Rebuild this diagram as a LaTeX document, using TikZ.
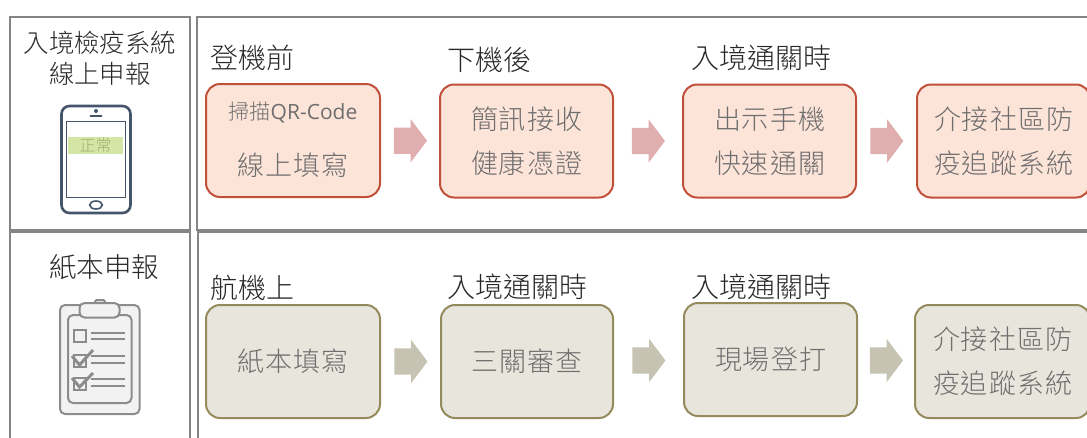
\documentclass[tikz,border=0pt]{standalone}
\usepackage{fontspec}
\usetikzlibrary{shapes.arrows,calc}
\newfontfamily\cjk{Noto Sans CJK TC Light}
\newfontfamily\cjkb[LetterSpace=3.7]{Noto Sans CJK TC Light}
\newfontfamily\latinf{Open Sans}
\definecolor{framegray}{HTML}{858585}
\definecolor{boxtext}{HTML}{6E6E6E}
\definecolor{darktext}{HTML}{282828}
\definecolor{redfill}{HTML}{FDE4D9}
\definecolor{redline}{HTML}{C0503A}
\definecolor{oliveFill}{HTML}{E8E6DC}
\definecolor{oliveLine}{HTML}{948A5C}
\definecolor{redarrow}{HTML}{E0AEAE}
\definecolor{olivearrow}{HTML}{C6C3B2}
\definecolor{phone}{HTML}{44546A}
\definecolor{band}{HTML}{D4E6A5}
\definecolor{bandtext}{HTML}{A0AE68}
\definecolor{clipg}{HTML}{8C8C8C}
\definecolor{clipf}{HTML}{F2F2F2}
\tikzset{
  x=1pt,y=-1pt,
  framebox/.style={draw=framegray,line width=1.6pt},
  title/.style={font=\cjk\fontsize{25.4}{31}\selectfont,text=darktext,align=center,inner sep=0pt},
  steplabel/.style={font=\cjk\fontsize{28}{30}\selectfont,text=darktext,anchor=west,inner sep=0pt},
  flowbox/.style={rounded corners=14pt,line width=2pt,minimum height=113pt,inner sep=0pt,
     align=center,text=boxtext,font=\cjkb\fontsize{27}{44}\selectfont},
  redbox/.style={flowbox,draw=redline,fill=redfill},
  olivebox/.style={flowbox,draw=oliveLine,fill=oliveFill},
  blockarrow/.style={single arrow,single arrow head extend=8.5pt,single arrow tip angle=106,
     text height=26pt,text depth=0pt,text width=0pt,minimum height=33pt,inner sep=0pt,draw=none,xshift=-4.5pt},
  redarr/.style={blockarrow,fill=redarrow},
  olivearr/.style={blockarrow,fill=olivearrow},
  phoneline/.style={draw=phone,line width=2.6pt},
  clipline/.style={draw=clipg,line width=2pt},
}
\begin{document}
\begin{tikzpicture}
\useasboundingbox (0,0) rectangle (1087,437);
\clip (0,0) rectangle (1087,437);
% frames
\draw[framebox] (10,17) rectangle (190,230);
\draw[framebox] (197,17) rectangle (1100,230);
\draw[framebox] (10,232) rectangle (190,450);
\draw[framebox] (198,232) rectangle (1100,450);
% headings
\node[title] (t1) at (100,58) {入境檢疫系統\\線上申報};
\node[title,font=\cjk\fontsize{27.5}{31}\selectfont] (t2) at (104,267) {紙本申報};
% phone
\draw[phoneline,fill=white,rounded corners=8pt] (61.5,106) rectangle (130.5,213);
\draw[draw=phone,line width=1pt] (66.5,121) rectangle (125.5,197);
\fill[band] (68,137) rectangle (123,154);
\node[font=\cjk\fontsize{16}{16}\selectfont,text=bandtext,inner sep=0pt] (ok) at (95.5,145.5) {正常};
\draw[phone,line width=2pt,line cap=round] (90.5,115.5) -- (101.5,115.5);
\fill[phone] (96,111) circle (2pt);
\draw[phone,line width=1.6pt] (96,205) ellipse (6.3pt and 4pt);
% clipboard
\draw[clipline,fill=clipf,rounded corners=5pt] (60,305) rectangle (139.5,414);
\draw[clipline,fill=clipf,rounded corners=5pt] (68,315) rectangle (131.5,403);
\draw[clipline,fill=clipf,rounded corners=2pt] (95,304) -- (95,300) -- (105,300) -- (105,304);
\draw[clipline,fill=clipf,rounded corners=5pt] (79.5,303) rectangle (119.5,317.5);
\draw[clipline] (74,330) rectangle (86,342);
\draw[clipline] (74,355) rectangle (86,367);
\draw[clipline] (74,378) rectangle (86,390);
\draw[draw=clipg,line width=3pt] (72,356) -- (79.5,365) -- (93,350);
\draw[draw=clipg,line width=3pt] (72,378) -- (79.5,387) -- (93,373);
\foreach \a in {333,339,356,363,379,386}{\draw[clipline,line width=1.6pt] (91,\a) -- (125,\a);}
% labels
\node[steplabel] (l1) at (210,58) {登機前};
\node[steplabel] (l2) at (447,60) {下機後};
\node[steplabel] (l3) at (691,58) {入境通關時};
\node[steplabel] (l4) at (210,288) {航機上};
\node[steplabel] (l5) at (447,287) {入境通關時};
\node[steplabel] (l6) at (691,287) {入境通關時};
% top row
\node[redbox,minimum width=174pt] (a1) at (293,140.5) {};
\node[font=\latinf\fontsize{21}{21}\selectfont,text=boxtext,inner sep=0pt] (a1t) at (293,112.5) {{\cjk 掃描}QR-Code};
\node[font=\cjkb\fontsize{27}{30}\selectfont,text=boxtext,inner sep=0pt] (a1u) at (293,165) {線上填寫};
\node[redbox,minimum width=173pt] (a2) at (526.5,141) {簡訊接收\\健康憑證};
\node[redbox,minimum width=173pt] (a3) at (769.5,141) {出示手機\\快速通關};
\node[redbox,minimum width=173pt] (a4) at (1003.5,141) {介接社區防\\疫追蹤系統};
\node[redarr] (ra1) at ($(a1.east)!.5!(a2.west)$) {};
\node[redarr] (ra2) at ($(a2.east)!.5!(a3.west)$) {};
\node[redarr] (ra3) at ($(a3.east)!.5!(a4.west)$) {};
% bottom row
\node[olivebox,minimum width=174pt] (b1) at (293,361.5) {紙本填寫};
\node[olivebox,minimum width=172pt] (b2) at (527,361.5) {三關審查};
\node[olivebox,minimum width=173pt] (b3) at (770.5,359.5) {現場登打};
\node[olivebox,minimum width=175pt] (b4) at (1002.5,361.5) {介接社區防\\疫追蹤系統};
\node[olivearr] (oa1) at ($(b1.east)!.5!(b2.west)$) {};
\node[olivearr] (oa2) at ($(b2.east)!.5!(b3.west)$) {};
\node[olivearr] (oa3) at ($(b3.east)!.5!(b4.west)$) {};
\end{tikzpicture}
\end{document}
